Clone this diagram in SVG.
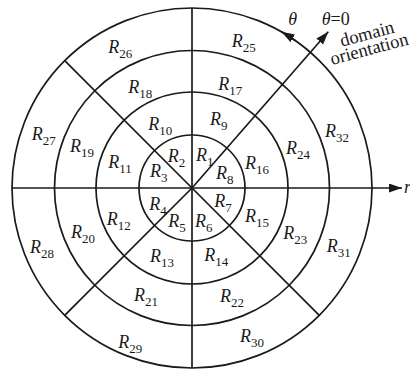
<svg xmlns="http://www.w3.org/2000/svg" width="410" height="374" viewBox="0 0 410 374">
<style>
.ln{fill:none;stroke:#1a1a1a;stroke-width:1.7}
.lb{font-family:"Liberation Serif","Times New Roman",serif;font-size:18px;font-style:italic;fill:#1a1a1a}
.sb{font-size:13px;font-style:normal}
.an{font-family:"Liberation Serif","Times New Roman",serif;font-size:18.5px;fill:#1a1a1a}
</style>
<defs>
<marker id="ah" markerUnits="userSpaceOnUse" markerWidth="14" markerHeight="10" refX="13" refY="4.5" orient="auto">
<path d="M0,0 L13,4.5 L0,9 z" fill="#1a1a1a"/>
</marker>
</defs>
<rect width="410" height="374" fill="#ffffff"/>
<g id="rings" class="ln">
<circle cx="192" cy="188" r="53"/>
<circle cx="192" cy="188" r="96"/>
<circle cx="192" cy="188" r="137.5"/>
<circle cx="192" cy="188" r="180"/>
</g>
<g id="connectors" class="ln">
<path d="M12,188 H402" marker-end="url(#ah)"/>
<path d="M192,8 V368"/>
<path d="M192,188 L64.7,60.7"/>
<path d="M192,188 L319.3,315.3"/>
<path d="M192,188 L64.7,315.3"/>
<path d="M192,188 L328.3,31.7" marker-end="url(#ah)"/>
<path d="M295.2,40.6 A180,180 0 0 0 281.5,31.8" marker-end="url(#ah)"/>
</g>
<g id="labels" class="lb">
<g id="R1"><text x="196" y="160.7">R<tspan class="sb" dy="5">1</tspan></text></g>
<g id="R2"><text x="167.7" y="161.7">R<tspan class="sb" dy="5">2</tspan></text></g>
<g id="R3"><text x="150" y="176.7">R<tspan class="sb" dy="5">3</tspan></text></g>
<g id="R4"><text x="149.3" y="210">R<tspan class="sb" dy="5">4</tspan></text></g>
<g id="R5"><text x="168.3" y="226.7">R<tspan class="sb" dy="5">5</tspan></text></g>
<g id="R6"><text x="195" y="226.7">R<tspan class="sb" dy="5">6</tspan></text></g>
<g id="R7"><text x="214.3" y="206.7">R<tspan class="sb" dy="5">7</tspan></text></g>
<g id="R8"><text x="216" y="179.3">R<tspan class="sb" dy="5">8</tspan></text></g>
<g id="R9"><text x="210" y="125">R<tspan class="sb" dy="5">9</tspan></text></g>
<g id="R10"><text x="148.3" y="130">R<tspan class="sb" dy="5">10</tspan></text></g>
<g id="R11"><text x="108.3" y="168.3">R<tspan class="sb" dy="5">11</tspan></text></g>
<g id="R12"><text x="106.7" y="225">R<tspan class="sb" dy="5">12</tspan></text></g>
<g id="R13"><text x="150" y="261.7">R<tspan class="sb" dy="5">13</tspan></text></g>
<g id="R14"><text x="204.3" y="261">R<tspan class="sb" dy="5">14</tspan></text></g>
<g id="R15"><text x="245" y="221.7">R<tspan class="sb" dy="5">15</tspan></text></g>
<g id="R16"><text x="245" y="169.3">R<tspan class="sb" dy="5">16</tspan></text></g>
<g id="R17"><text x="218.3" y="90">R<tspan class="sb" dy="5">17</tspan></text></g>
<g id="R18"><text x="128.3" y="93.3">R<tspan class="sb" dy="5">18</tspan></text></g>
<g id="R19"><text x="70" y="151.7">R<tspan class="sb" dy="5">19</tspan></text></g>
<g id="R20"><text x="71" y="238.3">R<tspan class="sb" dy="5">20</tspan></text></g>
<g id="R21"><text x="134" y="301">R<tspan class="sb" dy="5">21</tspan></text></g>
<g id="R22"><text x="220" y="301.7">R<tspan class="sb" dy="5">22</tspan></text></g>
<g id="R23"><text x="283.3" y="239.3">R<tspan class="sb" dy="5">23</tspan></text></g>
<g id="R24"><text x="286" y="154">R<tspan class="sb" dy="5">24</tspan></text></g>
<g id="R25"><text x="231.7" y="46.7">R<tspan class="sb" dy="5">25</tspan></text></g>
<g id="R26"><text x="108.3" y="53.3">R<tspan class="sb" dy="5">26</tspan></text></g>
<g id="R27"><text x="31.7" y="140">R<tspan class="sb" dy="5">27</tspan></text></g>
<g id="R28"><text x="30" y="253.3">R<tspan class="sb" dy="5">28</tspan></text></g>
<g id="R29"><text x="118.3" y="347.7">R<tspan class="sb" dy="5">29</tspan></text></g>
<g id="R30"><text x="240" y="341.7">R<tspan class="sb" dy="5">30</tspan></text></g>
<g id="R31"><text x="326.7" y="251.7">R<tspan class="sb" dy="5">31</tspan></text></g>
<g id="R32"><text x="325" y="136.7">R<tspan class="sb" dy="5">32</tspan></text></g>
</g>
<g id="annotations">
<text class="lb" x="288.3" y="25">θ</text>
<text class="lb" x="321.7" y="25">θ<tspan font-style="normal">=0</tspan></text>
<text class="an" transform="translate(341.7,46.7) rotate(-15)">domain</text>
<text class="an" transform="translate(332,65) rotate(-15)">orientation</text>
<text class="lb" x="404" y="193">r</text>
</g>
</svg>
